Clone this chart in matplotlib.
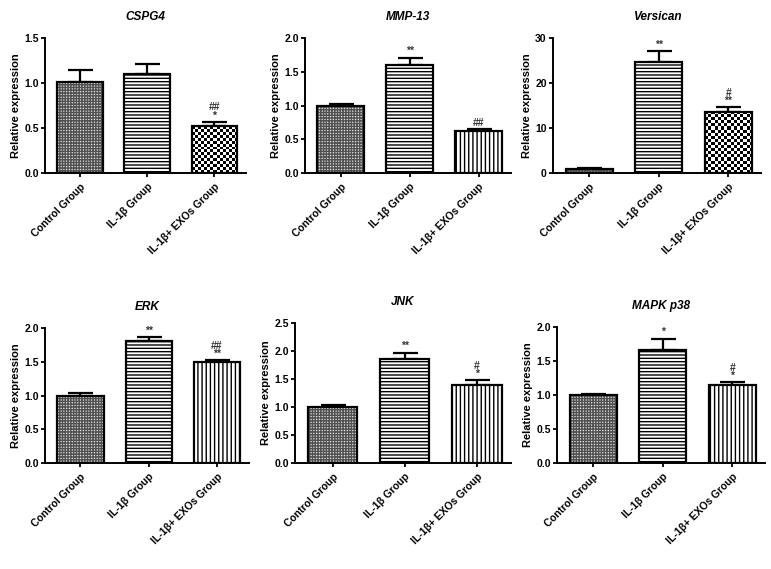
import matplotlib.pyplot as plt
import numpy as np

plt.rcParams['font.family'] = ['Liberation Sans', 'DejaVu Sans']
plt.rcParams['font.weight'] = 'bold'
plt.rcParams['hatch.linewidth'] = 1.0

groups = ['Control Group', 'IL-1β Group', 'IL-1β+ EXOs Group']

genes = ['CSPG4', 'MMP-13', 'Versican', 'ERK', 'JNK', 'MAPK p38']

cspg4_mean = [1.01, 1.10, 0.52]
cspg4_err = [0.13, 0.11, 0.05]
mmp13_mean = [0.99, 1.60, 0.62]
mmp13_err = [0.03, 0.11, 0.03]
versican_mean = [1.0, 24.7, 13.6]
versican_err = [0.1, 2.4, 1.0]
erk_mean = [1.00, 1.81, 1.50]
erk_err = [0.03, 0.05, 0.02]
jnk_mean = [1.00, 1.85, 1.40]
jnk_err = [0.03, 0.12, 0.08]
p38_mean = [1.00, 1.66, 1.15]
p38_err = [0.01, 0.17, 0.04]

means = [cspg4_mean, mmp13_mean, versican_mean, erk_mean, jnk_mean, p38_mean]
errs = [cspg4_err, mmp13_err, versican_err, erk_err, jnk_err, p38_err]

ymax = [1.5, 2.0, 30, 2.0, 2.5, 2.0]
ystep = [0.5, 0.5, 10, 0.5, 0.5, 0.5]

# significance marks above each bar
marks = [
    ['', '', '##\n*'],
    ['', '**', '##'],
    ['', '**', '#\n**'],
    ['', '**', '##\n**'],
    ['', '**', '#\n*'],
    ['', '*', '#\n*'],
]

# third bar is a checkerboard in some panels, vertical lines in others
third_hatch = ['checker', '||||', 'checker', '||||', '||||', '||||']

# axes rectangles in pixels: left, top, right, bottom
W, H = 771, 569
boxes = [
    (45, 38, 246, 173),
    (305, 38, 511, 173),
    (553, 38, 761, 173),
    (45, 328, 249, 463),
    (295, 323, 511, 463),
    (557, 327, 765, 463),
]

fig = plt.figure(figsize=(W / 100, H / 100), dpi=100)

x = np.arange(3)
bw = 0.68
for i in range(6):
    l, t, r, b = boxes[i]
    ax = fig.add_axes([l / W, 1 - b / H, (r - l) / W, (b - t) / H])

    hatches = ['grid', '-----', third_hatch[i]]
    for j in range(3):
        h = hatches[j]
        if h == 'checker':
            # checkerboard fill, about 3 px cells
            rows = max(1, int(round(means[i][j] / ymax[i] * (b - t) / 3)))
            cells = np.indices((rows, 15)).sum(axis=0) % 2
            ax.imshow(cells, cmap='gray', vmin=0, vmax=1,
                      extent=(x[j] - bw / 2, x[j] + bw / 2, 0, means[i][j]),
                      aspect='auto', interpolation='nearest', zorder=2.5)
        elif h == 'grid':
            # fine grey grid with light dots
            ax.bar(x[j], means[i][j], width=bw, color='#e0e0e0', hatch='++++++',
                   edgecolor='#505050', linewidth=0, zorder=3)
        else:
            ax.bar(x[j], means[i][j], width=bw, color='white', hatch=h,
                   edgecolor='black', linewidth=0, zorder=3)
        ax.bar(x[j], means[i][j], width=bw, color='none',
               edgecolor='black', linewidth=1.6, zorder=4)

    ax.errorbar(x, means[i], yerr=[np.zeros(3), errs[i]], fmt='none',
                ecolor='black', elinewidth=1.6, capsize=9, capthick=1.6, zorder=2)

    for j in range(3):
        if marks[i][j]:
            ax.text(x[j], means[i][j] + errs[i][j] + ymax[i] * 0.01, marks[i][j],
                    ha='center', va='bottom', fontsize=7.5, linespacing=0.75,
                    color='#333333')

    ax.set_xlim(-0.52, 2.47)
    ax.set_ylim(0, ymax[i])
    ax.set_yticks(np.arange(0, ymax[i] + ystep[i] / 2, ystep[i]))
    if ymax[i] >= 10:
        ax.set_yticklabels([f'{v:.0f}' for v in ax.get_yticks()])
    else:
        ax.set_yticklabels([f'{v:.1f}' for v in ax.get_yticks()])
    ax.set_xticks(x)
    ax.set_xticklabels(groups, rotation=45, ha='right', rotation_mode='anchor',
                       fontweight='bold')
    ax.tick_params(axis='both', direction='out', length=3, width=1.3,
                   labelsize=7.5, pad=1.5)
    ax.tick_params(axis='x', pad=3)
    for s in ['top', 'right']:
        ax.spines[s].set_visible(False)
    for s in ['left', 'bottom']:
        ax.spines[s].set_linewidth(1.4)
    ax.set_ylabel('Relative expression', fontsize=8, fontweight='bold', labelpad=2)
    ax.set_title(genes[i], fontsize=8.5, fontweight='bold', style='italic', pad=13)

fig.savefig('out.png', dpi=100)
